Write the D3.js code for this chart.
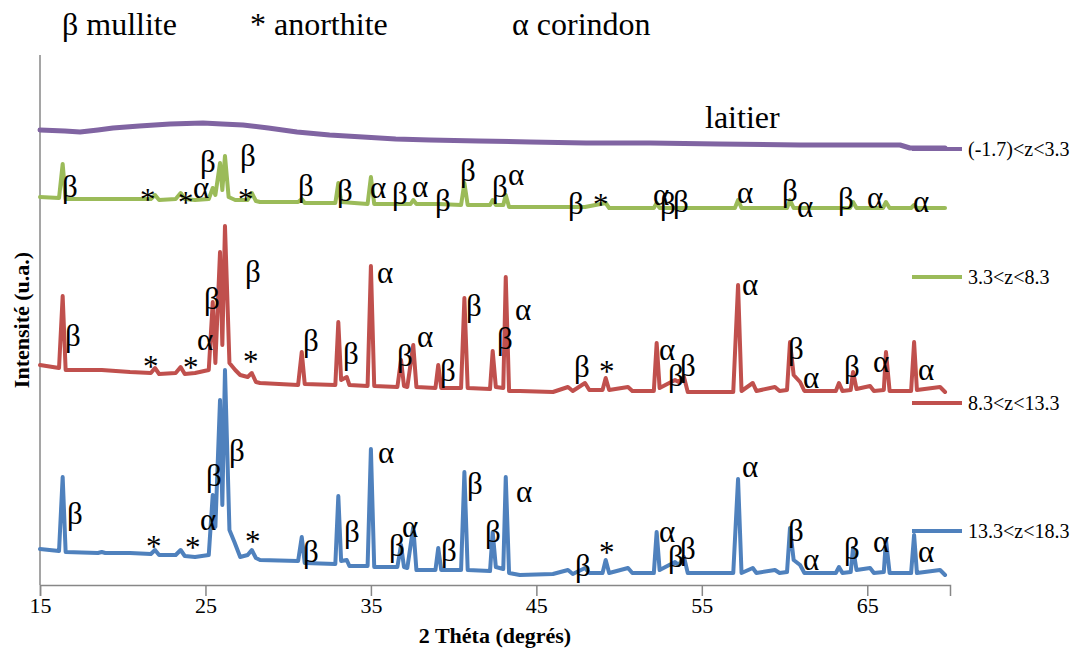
<!DOCTYPE html>
<html><head><meta charset="utf-8">
<script src="https://cdn.jsdelivr.net/npm/d3@7/dist/d3.min.js"></script>
<style>
html,body{margin:0;padding:0;background:#fff;}
svg{display:block;}
svg text{font-family:"Liberation Serif","DejaVu Serif",serif;}
</style></head>
<body>
<svg id="chart" width="1082" height="648"></svg>
<script>
// ---------- DATA ----------
const xTicks = [15, 25, 35, 45, 55, 65];
const seriesNames = ["(-1.7)<z<3.3", "3.3<z<8.3", "8.3<z<13.3", "13.3<z<18.3"];
const phaseLegend = ["β mullite", "* anorthite", "α corindon"];
const laitierLabel = "laitier";

// [2θ (degrés), intensité (u.a.)]
const laitier = [[15.0,455],[16.5,454],[17.42,453],[18.5,455],[19.41,457],[21.0,459],[22.86,461],[24.85,462],[26.0,461],[27.27,460],[28.8,457],[30.53,453],[32.5,450],[34.52,448],[36.5,446],[38.57,445],[41.5,444],[44.62,443],[48.0,442],[51.87,442],[56.0,441],[60.94,440],[64.0,440],[66.98,440],[67.58,437],[69.7,437]];

const serie38 = [[15.0,388],[16.15,387],[16.37,421],[16.55,386],[18.73,386],[20.44,386],[21.7,386],[21.95,390],[22.2,385],[23.2,386],[23.5,392],[23.75,386],[24.37,385],[25.2,386],[25.44,397],[25.6,390],[25.88,422],[26.02,395],[26.18,429],[26.4,388],[26.8,385],[27.55,385],[27.8,392],[28.05,384],[28.3,383],[30.6,383],[30.82,386],[31.0,382],[32.85,382],[33.03,402],[33.2,383],[34.8,381],[35.0,408],[35.2,381],[37.4,381],[37.56,385],[37.75,381],[39.07,381],[40.45,380],[40.65,402],[40.85,380],[42.2,380],[42.36,385],[42.55,380],[43.0,380],[43.15,390],[43.35,378],[47.94,378],[49.19,382],[49.4,377],[52.1,377],[52.27,382],[52.45,377],[57.0,377],[57.19,385],[57.4,377],[60.15,377],[60.33,385],[60.55,377],[63.95,377],[64.14,383],[64.35,377],[65.95,377],[66.13,383],[66.35,377],[67.65,377],[67.83,380],[68.0,377],[69.7,377]];

const serie813 = [[15.0,220],[16.15,217],[16.37,289],[16.55,215],[18.73,215],[20.44,213],[21.7,212],[21.95,217],[22.2,211],[23.2,212],[23.5,218],[23.75,211],[24.37,212],[25.2,215],[25.44,283],[25.6,222],[25.88,333],[26.02,240],[26.18,359],[26.45,222],[26.8,215],[27.1,210],[27.55,208],[27.8,212],[28.05,203],[28.3,202],[30.6,200],[30.82,233],[31.0,201],[32.85,200],[33.03,263],[33.2,205],[33.54,208],[33.7,200],[34.8,199],[35.0,319],[35.2,199],[36.6,198],[36.82,225],[37.0,199],[37.2,198],[37.56,240],[37.75,198],[38.9,197],[39.07,220],[39.25,197],[40.45,197],[40.65,287],[40.85,197],[42.2,196],[42.36,234],[42.55,198],[43.0,197],[43.15,308],[43.35,194],[44.0,194],[46.0,193],[46.91,198],[47.2,194],[47.94,202],[48.2,195],[49.0,195],[49.19,207],[49.4,195],[50.54,198],[50.8,194],[52.1,194],[52.27,242],[52.45,197],[53.38,205],[53.6,203],[53.92,208],[54.15,193],[56.9,193],[57.19,300],[57.4,194],[58.08,202],[58.3,194],[59.42,198],[59.7,194],[60.15,195],[60.33,243],[60.55,210],[60.94,203],[61.2,194],[63.1,194],[63.29,202],[63.5,194],[64.0,195],[64.14,213],[64.35,196],[65.17,199],[65.4,194],[66.0,195],[66.13,233],[66.35,194],[67.65,194],[67.83,243],[68.0,195],[69.4,198],[69.7,193]];

const serie1318 = [[15.0,36],[16.15,34],[16.37,108],[16.55,33],[18.5,32],[18.73,33],[18.95,32],[20.44,32],[21.7,31],[21.95,35],[22.2,30],[23.2,30],[23.5,35],[23.75,29],[24.37,28],[25.2,30],[25.44,90],[25.6,58],[25.88,185],[26.02,80],[26.18,215],[26.45,55],[26.75,43],[27.1,28],[27.55,30],[27.8,35],[28.05,27],[28.3,25],[30.6,24],[30.82,48],[31.0,22],[32.85,21],[33.03,89],[33.2,24],[33.54,25],[33.7,19],[34.8,19],[35.0,136],[35.2,18],[36.6,18],[36.82,40],[37.0,18],[37.2,17],[37.56,58],[37.75,15],[38.9,15],[39.07,37],[39.25,15],[40.45,15],[40.65,113],[40.85,15],[42.2,14],[42.36,53],[42.55,18],[43.0,16],[43.15,108],[43.35,12],[44.0,10],[46.0,11],[46.91,15],[47.2,11],[47.94,17],[48.2,12],[49.0,12],[49.19,25],[49.4,12],[50.54,17],[50.8,12],[52.1,12],[52.27,53],[52.45,15],[53.38,23],[53.6,20],[53.92,28],[54.15,12],[56.9,12],[57.19,106],[57.4,12],[58.08,17],[58.3,12],[59.42,15],[59.7,12],[60.15,13],[60.33,57],[60.55,25],[60.94,20],[61.2,12],[63.1,12],[63.29,18],[63.5,12],[64.0,13],[64.14,37],[64.35,15],[65.17,17],[65.4,12],[66.0,13],[66.13,45],[66.35,12],[67.65,12],[67.83,50],[68.0,12],[69.4,15],[69.7,10]];

// peak annotations: [2θ, intensité, symbole]
const labels38 = [[16.33,388,"β"],[21.04,375,"*"],[23.34,372,"*"],[24.25,387,"α"],[24.67,413,"β"],[27.09,419,"β"],[26.97,375,"*"],[30.59,389,"β"],[32.95,384,"β"],[34.95,387,"α"],[36.28,381,"β"],[37.48,388,"α"],[38.87,374,"β"],[40.38,404,"β"],[42.32,388,"β"],[43.29,400,"α"],[46.91,371,"β"],[48.42,370,"*"],[52.05,380,"α"],[52.47,371,"β"],[53.26,373,"β"],[57.13,382,"α"],[59.85,384,"β"],[60.75,368,"α"],[63.23,376,"β"],[64.98,377,"α"],[67.77,373,"α"]];
const labels813 = [[16.51,239,"β"],[21.23,208,"*"],[23.64,207,"*"],[24.49,235,"α"],[24.91,276,"β"],[27.39,303,"β"],[27.27,213,"*"],[30.90,234,"β"],[33.31,221,"β"],[35.37,302,"α"],[36.58,219,"β"],[37.79,238,"α"],[39.18,204,"β"],[40.75,269,"β"],[42.62,236,"β"],[43.71,265,"α"],[47.28,208,"β"],[48.79,203,"*"],[52.41,225,"α"],[52.96,199,"β"],[53.68,209,"β"],[57.43,290,"α"],[60.21,226,"β"],[61.12,197,"α"],[63.59,208,"β"],[65.35,213,"α"],[68.07,205,"α"]];
const labels1318 = [[16.63,61,"β"],[21.41,28,"*"],[23.76,27,"*"],[24.67,55,"α"],[25.03,99,"β"],[26.42,124,"β"],[27.39,33,"*"],[30.90,23,"β"],[33.37,43,"β"],[35.43,122,"α"],[36.09,29,"β"],[36.88,48,"α"],[39.24,24,"β"],[40.81,91,"β"],[41.90,43,"β"],[43.77,83,"α"],[47.34,9,"β"],[48.79,22,"*"],[52.41,43,"α"],[52.96,18,"β"],[53.68,26,"β"],[57.43,108,"α"],[60.21,44,"β"],[61.12,15,"α"],[63.59,26,"β"],[65.35,33,"α"],[68.07,23,"α"]];

// ---------- STYLE / LAYOUT ----------
const FONT = "'Liberation Serif','DejaVu Serif',serif";
const colors = ["#8064A2", "#9BBB59", "#C0504D", "#4F81BD"];
const widths = [5, 4, 4, 4];
const svg = d3.select("#chart");
const x = d3.scaleLinear().domain([15, 70]).range([40, 950]);
const y = d3.scaleLinear().domain([0, 530]).range([585, 55]);

// axes
const xAxis = d3.axisBottom(x).tickValues(xTicks).tickSize(11).tickFormat(d3.format("d"));
const gx = svg.append("g").attr("transform", `translate(0,${y(0)})`).call(xAxis);
gx.attr("font-family", FONT);
gx.select(".domain").attr("stroke", "#878787").attr("stroke-width", 1.5);
gx.selectAll(".tick line").attr("stroke", "#878787").attr("stroke-width", 1.5);
gx.selectAll(".tick text").attr("font-family", FONT).attr("font-size", 22).attr("fill", "#000").attr("dy", "0.9em").attr("y", 8);

svg.append("line").attr("x1", x(15)).attr("x2", x(15)).attr("y1", y(530)).attr("y2", y(0))
  .attr("stroke", "#878787").attr("stroke-width", 1.5);

svg.append("text").attr("x", 495).attr("y", 643).attr("text-anchor", "middle").attr("font-family", FONT)
  .attr("font-size", 22).attr("font-weight", "bold").text("2 Théta (degrés)");
svg.append("text").attr("transform", "translate(29,320) rotate(-90)").attr("text-anchor", "middle").attr("font-family", FONT)
  .attr("font-size", 22).attr("font-weight", "bold").text("Intensité (u.a.)");

// series
const allSeries = [laitier, serie38, serie813, serie1318];
const line = d3.line().x(d => x(d[0])).y(d => y(d[1]));
allSeries.forEach((s, i) => {
  svg.append("path").datum(s).attr("d", line).attr("fill", "none")
    .attr("stroke", colors[i]).attr("stroke-width", widths[i])
    .attr("stroke-linejoin", "round").attr("stroke-linecap", "round");
});

// legend (right)
const legendY = [149, 277, 403, 531];
seriesNames.forEach((n, i) => {
  svg.append("line").attr("x1", 912).attr("x2", 962).attr("y1", legendY[i]).attr("y2", legendY[i])
    .attr("stroke", colors[i]).attr("stroke-width", 4);
  svg.append("text").attr("x", 968).attr("y", legendY[i] + 7).attr("font-family", FONT).attr("font-size", 20).text(n);
});

// phase legend (top)
const phaseX = [62, 250, 512];
phaseLegend.forEach((t, i) => {
  svg.append("text").attr("x", phaseX[i]).attr("y", 35).attr("font-family", FONT).attr("font-size", 32).text(t);
});
svg.append("text").attr("x", 705).attr("y", 128).attr("font-family", FONT).attr("font-size", 32).text(laitierLabel);

// peak labels
[labels38, labels813, labels1318].forEach(arr => {
  svg.append("g").selectAll("text").data(arr).join("text")
    .attr("x", d => x(d[0])).attr("y", d => y(d[1]))
    .attr("font-family", FONT).attr("font-size", 31).text(d => d[2]);
});
</script>
</body></html>
